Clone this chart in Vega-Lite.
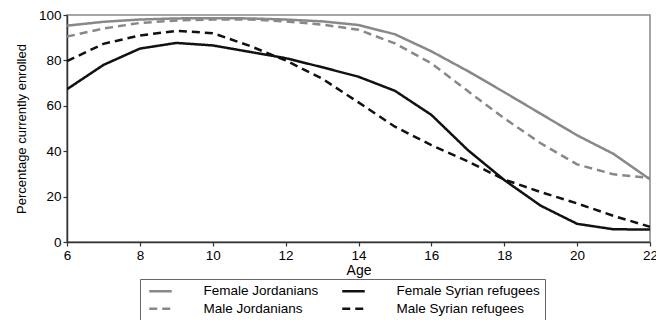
{
  "$schema": "https://vega.github.io/schema/vega-lite/v6.json",
  "autosize": "none",
  "width": 583,
  "height": 227,
  "padding": {"left": 67, "top": 15, "right": 6, "bottom": 78},
  "background": "white",
  "config": {
    "font": "Liberation Sans",
    "view": {"stroke": "#888", "strokeWidth": 1.5},
    "axis": {"grid": false, "domainColor": "#333", "tickColor": "#333", "labelColor": "#000", "titleColor": "#000", "labelFontSize": 13.5, "titleFontWeight": "normal", "tickSize": 4, "labelPadding": 2, "domainWidth": 1.5, "tickWidth": 1.2}
  },
  "data": {"values": [
    {"age": 6, "series": "Female Jordanians", "pct": 95.3},
    {"age": 7, "series": "Female Jordanians", "pct": 97},
    {"age": 8, "series": "Female Jordanians", "pct": 98},
    {"age": 9, "series": "Female Jordanians", "pct": 98.5},
    {"age": 10, "series": "Female Jordanians", "pct": 98.6},
    {"age": 11, "series": "Female Jordanians", "pct": 98.5},
    {"age": 12, "series": "Female Jordanians", "pct": 98},
    {"age": 13, "series": "Female Jordanians", "pct": 97.2},
    {"age": 14, "series": "Female Jordanians", "pct": 95.6},
    {"age": 15, "series": "Female Jordanians", "pct": 91.5},
    {"age": 16, "series": "Female Jordanians", "pct": 84},
    {"age": 17, "series": "Female Jordanians", "pct": 75.3},
    {"age": 18, "series": "Female Jordanians", "pct": 66},
    {"age": 19, "series": "Female Jordanians", "pct": 56.5},
    {"age": 20, "series": "Female Jordanians", "pct": 47},
    {"age": 21, "series": "Female Jordanians", "pct": 38.8},
    {"age": 22, "series": "Female Jordanians", "pct": 27.6},
    {"age": 6, "series": "Male Jordanians", "pct": 90.5},
    {"age": 7, "series": "Male Jordanians", "pct": 94},
    {"age": 8, "series": "Male Jordanians", "pct": 96.5},
    {"age": 9, "series": "Male Jordanians", "pct": 97.6},
    {"age": 10, "series": "Male Jordanians", "pct": 98},
    {"age": 11, "series": "Male Jordanians", "pct": 98},
    {"age": 12, "series": "Male Jordanians", "pct": 97.2},
    {"age": 13, "series": "Male Jordanians", "pct": 95.8},
    {"age": 14, "series": "Male Jordanians", "pct": 93.5},
    {"age": 15, "series": "Male Jordanians", "pct": 87.5},
    {"age": 16, "series": "Male Jordanians", "pct": 78.7},
    {"age": 17, "series": "Male Jordanians", "pct": 66.5},
    {"age": 18, "series": "Male Jordanians", "pct": 54.5},
    {"age": 19, "series": "Male Jordanians", "pct": 43.5},
    {"age": 20, "series": "Male Jordanians", "pct": 34.2},
    {"age": 21, "series": "Male Jordanians", "pct": 29.8},
    {"age": 22, "series": "Male Jordanians", "pct": 28.2},
    {"age": 6, "series": "Female Syrian refugees", "pct": 67.3},
    {"age": 7, "series": "Female Syrian refugees", "pct": 78},
    {"age": 8, "series": "Female Syrian refugees", "pct": 85.2},
    {"age": 9, "series": "Female Syrian refugees", "pct": 87.7},
    {"age": 10, "series": "Female Syrian refugees", "pct": 86.6},
    {"age": 11, "series": "Female Syrian refugees", "pct": 83.8},
    {"age": 12, "series": "Female Syrian refugees", "pct": 81},
    {"age": 13, "series": "Female Syrian refugees", "pct": 77},
    {"age": 14, "series": "Female Syrian refugees", "pct": 72.8},
    {"age": 15, "series": "Female Syrian refugees", "pct": 66.6},
    {"age": 16, "series": "Female Syrian refugees", "pct": 56},
    {"age": 17, "series": "Female Syrian refugees", "pct": 40.5},
    {"age": 18, "series": "Female Syrian refugees", "pct": 27.3},
    {"age": 19, "series": "Female Syrian refugees", "pct": 16},
    {"age": 20, "series": "Female Syrian refugees", "pct": 8},
    {"age": 21, "series": "Female Syrian refugees", "pct": 5.6},
    {"age": 22, "series": "Female Syrian refugees", "pct": 5.5},
    {"age": 6, "series": "Male Syrian refugees", "pct": 79.7},
    {"age": 7, "series": "Male Syrian refugees", "pct": 87.3},
    {"age": 8, "series": "Male Syrian refugees", "pct": 91},
    {"age": 9, "series": "Male Syrian refugees", "pct": 93},
    {"age": 10, "series": "Male Syrian refugees", "pct": 92},
    {"age": 11, "series": "Male Syrian refugees", "pct": 86.5},
    {"age": 12, "series": "Male Syrian refugees", "pct": 80},
    {"age": 13, "series": "Male Syrian refugees", "pct": 72},
    {"age": 14, "series": "Male Syrian refugees", "pct": 61.5},
    {"age": 15, "series": "Male Syrian refugees", "pct": 50.8},
    {"age": 16, "series": "Male Syrian refugees", "pct": 42.7},
    {"age": 17, "series": "Male Syrian refugees", "pct": 35.5},
    {"age": 18, "series": "Male Syrian refugees", "pct": 27.5},
    {"age": 19, "series": "Male Syrian refugees", "pct": 22},
    {"age": 20, "series": "Male Syrian refugees", "pct": 17},
    {"age": 21, "series": "Male Syrian refugees", "pct": 11.5},
    {"age": 22, "series": "Male Syrian refugees", "pct": 6.7}
  ]},
  "mark": {"type": "line", "strokeWidth": 2.5, "clip": true},
  "encoding": {
    "x": {"field": "age", "type": "quantitative", "title": "Age", "scale": {"domain": [6, 22], "nice": false}, "axis": {"values": [6, 8, 10, 12, 14, 16, 18, 20, 22], "titleFontSize": 14, "titlePadding": 2, "labelFlush": false}},
    "y": {"field": "pct", "type": "quantitative", "title": "Percentage currently enrolled", "scale": {"domain": [0, 100], "nice": false}, "axis": {"values": [0, 20, 40, 60, 80, 100], "titleFontSize": 13, "titlePadding": 10}},
    "color": {"field": "series", "type": "nominal", "scale": {"domain": ["Female Jordanians", "Male Jordanians", "Female Syrian refugees", "Male Syrian refugees"], "range": ["#888888", "#888888", "#111111", "#111111"]},
      "legend": {"title": null, "orient": "none", "legendX": 73, "legendY": 264, "columns": 2, "symbolType": "M-0.5,0H4", "symbolSize": 100, "symbolStrokeWidth": 2.5, "labelFontSize": 13.5, "strokeColor": "#666", "padding": 5, "columnPadding": 18, "rowPadding": 3, "labelOffset": 45, "labelLimit": 300}},
    "strokeDash": {"field": "series", "type": "nominal", "scale": {"domain": ["Female Jordanians", "Male Jordanians", "Female Syrian refugees", "Male Syrian refugees"], "range": [[1, 0], [8, 5], [1, 0], [8, 5]]}}
  }
}
